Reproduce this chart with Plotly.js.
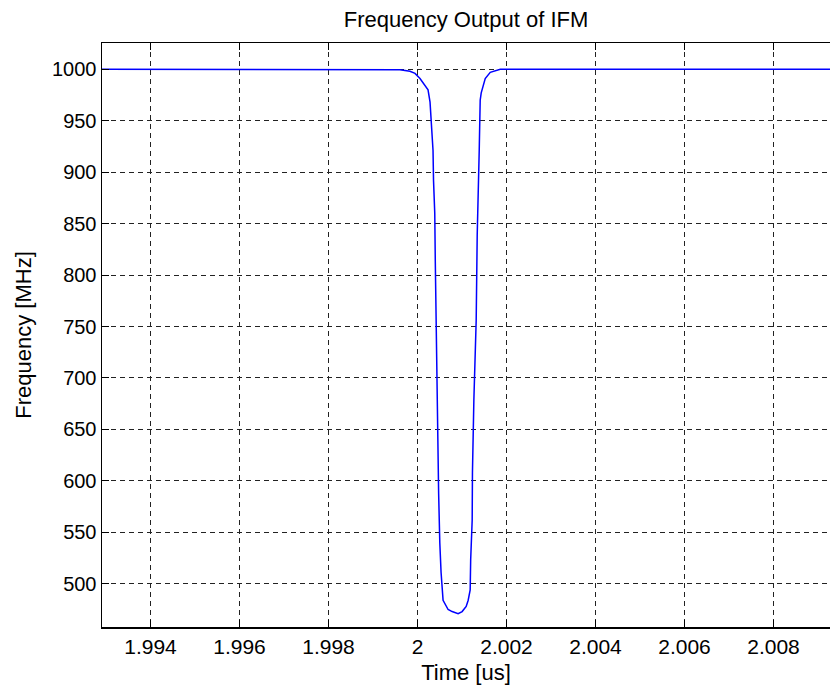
<!DOCTYPE html>
<html>
<head>
<meta charset="utf-8">
<script src="https://cdn.plot.ly/plotly-3.0.1.min.js"></script>
<style>
html,body{margin:0;padding:0;background:#fff;}
#chart{width:830px;height:695px;}
</style>
</head>
<body>
<div id="chart"></div>
<script>
// Time [us]
const timeUs = [
  1.99291, 1.99949, 1.999605, 1.99983, 1.999944, 2.000056, 2.000124, 2.000237,
  2.000282, 2.000304, 2.000349, 2.000360, 2.000388, 2.000400, 2.000417, 2.000430,
  2.000462, 2.000475, 2.000501, 2.000530, 2.000575, 2.000620, 2.000688, 2.000778,
  2.000913, 2.001003, 2.001094, 2.001139, 2.001184, 2.001195, 2.001229, 2.001235,
  2.001267, 2.001319, 2.001342, 2.001387, 2.001409, 2.001432, 2.001522, 2.001635,
  2.001860, 2.00927
];
// Frequency [MHz]
const freqMHz = [
  1000, 1000, 999.5, 998, 996, 991, 987, 980,
  968, 950, 921, 892, 860, 813, 760, 700,
  640, 588, 540, 511, 484, 480, 475, 473,
  471, 473, 478, 484, 494, 523, 562, 608,
  679, 756, 839, 921, 970, 977, 991, 997,
  1000, 1000
];
const xTickVals = [1.994, 1.996, 1.998, 2.000, 2.002, 2.004, 2.006, 2.008];
const xTickText = ['1.994', '1.996', '1.998', '2', '2.002', '2.004', '2.006', '2.008'];
const yTickVals = [500, 550, 600, 650, 700, 750, 800, 850, 900, 950, 1000];

const font = 'Arial, "Liberation Sans", Helvetica, sans-serif';

const trace = {
  x: timeUs, y: freqMHz, type: 'scatter', mode: 'lines',
  line: {color: '#0000ff', width: 1.5},
  hoverinfo: 'skip'
};

const layout = {
  width: 830, height: 695,
  margin: {l: 102, r: 0, t: 43, b: 68},
  paper_bgcolor: '#ffffff', plot_bgcolor: '#ffffff',
  showlegend: false,
  font: {family: font, color: '#000000', size: 21},
  title: {
    text: 'Frequency Output of IFM',
    font: {family: font, size: 22, color: '#000'},
    x: 0.5, xref: 'paper', xanchor: 'center',
    y: 1 - 19/695, yref: 'container', yanchor: 'middle'
  },
  xaxis: {
    range: [1.99291, 2.00927],
    tickvals: xTickVals, ticktext: xTickText,
    ticks: 'inside', ticklen: 7, tickcolor: '#000', tickwidth: 1,
    showline: true, linecolor: '#000', linewidth: 1.5, mirror: 'ticks',
    showgrid: true, gridcolor: '#222', gridwidth: 1, griddash: '5px,4px',
    zeroline: false,
    tickfont: {family: font, size: 21, color: '#000'},
    title: {text: 'Time [us]', font: {family: font, size: 22, color: '#000'}, standoff: 8}
  },
  yaxis: {
    range: [458, 1025.5],
    tickvals: yTickVals,
    ticks: 'inside', ticklen: 7, tickcolor: '#000', tickwidth: 1,
    showline: true, linecolor: '#000', linewidth: 1.5, mirror: false,
    showgrid: true, gridcolor: '#222', gridwidth: 1, griddash: '5px,4px',
    zeroline: false,
    tickfont: {family: font, size: 20, color: '#000'},
    title: {text: 'Frequency [MHz]', font: {family: font, size: 22, color: '#000'}, standoff: 14}
  }
};

Plotly.newPlot('chart', [trace], layout, {displayModeBar: false, staticPlot: true});
</script>
</body>
</html>
